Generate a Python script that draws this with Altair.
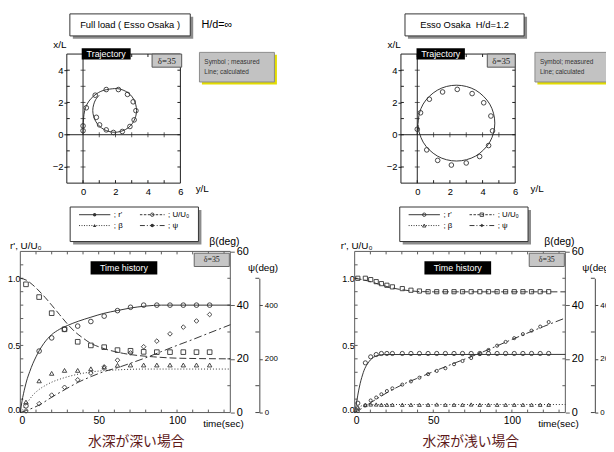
import altair as alt
import pandas as pd

# ======================= DATA =======================
# --- Trajectory, deep water (H/d = inf): measured (y/L, x/L)
deep_traj_meas_y = [0.0, 0.0, 0.2, 0.75, 1.43, 2.18, 2.74, 3.09, 3.26, 3.15, 2.89, 2.42, 1.87, 1.43, 1.02, 0.82]
deep_traj_meas_x = [0.55, 0.25, 1.67, 2.45, 2.8, 2.8, 2.5, 2.04, 1.49, 0.92, 0.51, 0.2, 0.14, 0.3, 0.61, 1.08]
# calculated path
deep_traj_calc_y = [0.0, 0.01, 0.03, 0.1, 0.25, 0.5, 0.85, 1.3, 1.95, 2.3, 2.63, 2.92, 3.12, 3.25, 3.3, 3.25,
                    3.12, 2.92, 2.63, 2.3, 1.95, 1.6, 1.28, 0.99, 0.78, 0.65, 0.6, 0.65, 0.78, 1.0]
deep_traj_calc_x = [0.0, 0.5, 1.0, 1.5, 1.9, 2.25, 2.55, 2.76, 2.86, 2.82, 2.69, 2.47, 2.2, 1.86, 1.5, 1.15,
                    0.83, 0.55, 0.33, 0.2, 0.15, 0.2, 0.33, 0.55, 0.83, 1.15, 1.5, 1.85, 2.18, 2.45]

# --- Trajectory, shallow water (H/d = 1.2)
sh_traj_meas_y = [0.0, 0.2, 0.74, 1.55, 2.45, 3.36, 4.07, 4.51, 4.61, 4.37, 3.82, 3.0, 2.09, 1.25, 0.58]
sh_traj_meas_x = [0.34, 1.36, 2.2, 2.65, 2.81, 2.55, 1.98, 1.16, 0.24, -0.67, -1.35, -1.75, -1.88, -1.59, -0.94]
sh_traj_calc_y = [0.0, 0.01, 0.05, 0.13, 0.36, 0.74, 1.23, 1.79, 2.4, 3.01, 3.58, 4.06, 4.44, 4.67, 4.75, 4.67,
                  4.44, 4.06, 3.58, 3.01, 2.4, 1.79, 1.23, 0.74, 0.36, 0.13, 0.05]
sh_traj_calc_x = [0.0, 0.35, 0.72, 1.33, 1.9, 2.38, 2.76, 2.99, 3.07, 2.99, 2.76, 2.38, 1.9, 1.33, 0.72, 0.11,
                  -0.46, -0.94, -1.32, -1.55, -1.63, -1.55, -1.32, -0.94, -0.46, 0.11, 0.6]

# --- Time history, deep water: measured
deep_t = [3.6, 12.0, 20.0, 28.2, 36.6, 45.0, 53.5, 62.0, 70.3, 78.7, 87.1, 95.5, 104.0, 112.4, 120.8]
deep_r = [0.05, 0.458, 0.556, 0.62, 0.644, 0.678, 0.718, 0.759, 0.784, 0.80, 0.80, 0.80, 0.80, 0.80, 0.80]
deep_u = [0.955, 0.86, 0.74, 0.62, 0.527, 0.50, 0.487, 0.465, 0.46, 0.452, 0.45, 0.45, 0.45, 0.45, 0.45]
deep_beta = [3.9, 11.8, 14.6, 15.7, 15.7, 16.3, 16.9, 17.6, 17.7, 17.7, 17.7, 17.7, 17.7, 17.7, 17.7]
deep_psi = [6, 33, 65, 94, 122, 147, 170, 195, 222, 245, 266, 293, 318, 341, 365]
# calculated
deep_r_line_t = [0, 1, 2, 3, 4, 6, 8, 10, 12, 15, 20, 25, 30, 37, 45, 53, 62, 70, 80, 90, 134]
deep_r_line_v = [0, 0.08, 0.14, 0.19, 0.235, 0.305, 0.365, 0.415, 0.46, 0.515, 0.58, 0.62, 0.648, 0.68, 0.71,
                 0.738, 0.76, 0.778, 0.793, 0.80, 0.80]
deep_u_line_t = [0, 4, 8, 12, 16, 20, 25, 30, 35, 40, 45, 50, 55, 60, 66, 75, 85, 100, 134]
deep_u_line_v = [1.0, 0.985, 0.95, 0.905, 0.855, 0.80, 0.73, 0.66, 0.60, 0.555, 0.515, 0.49, 0.47, 0.455,
                 0.44, 0.425, 0.415, 0.405, 0.40]
deep_b_line_t = [0, 2, 4, 6, 8, 12, 16, 20, 25, 30, 37, 45, 53, 62, 70, 80, 134]
deep_b_line_v = [0, 1.5, 3.3, 5.0, 6.5, 8.6, 10.1, 11.3, 12.4, 13.3, 14.3, 15.1, 15.6, 15.9, 16.1, 16.2, 16.2]
deep_p_line_t = [0, 4, 12, 20, 28.6, 37, 45.6, 53.6, 62, 70, 80, 90, 100, 110, 120, 134]
deep_p_line_v = [0, 8, 28, 57, 86, 113, 135, 153, 167, 183, 204, 227, 250, 272, 295, 327]

# --- Time history, shallow water: measured
sh_t = [2.0, 6.8, 10.2, 13.7, 17.0, 20.5, 24.0, 30.3, 35.8, 41.2, 46.7, 52.2, 57.7, 63.2, 68.6, 74.1, 79.6,
        85.1, 90.6, 96.0, 101.5, 107.0, 112.5, 118.0, 123.4]
sh_r = [0.07, 0.37, 0.415, 0.432, 0.44, 0.44, 0.44, 0.44, 0.44, 0.44, 0.44, 0.44, 0.44, 0.44, 0.44, 0.44, 0.44,
        0.44, 0.44, 0.44, 0.44, 0.44, 0.44, 0.44, 0.44]
sh_u = [1.0, 1.0, 0.99, 0.975, 0.96, 0.948, 0.936, 0.923, 0.911, 0.905, 0.90, 0.90, 0.90, 0.90, 0.90, 0.90,
        0.90, 0.90, 0.90, 0.90, 0.90, 0.90, 0.90, 0.90, 0.90]
sh_beta = [2.0, 2.8, 3.0, 3.0, 2.9, 2.9, 2.9, 2.9, 2.9, 2.9, 2.9, 3.0, 2.9, 2.9, 2.9, 3.0, 2.9, 2.9, 2.9, 2.9,
           2.9, 2.9, 2.9, 2.9, 2.9]
sh_psi = [6, 27, 45, 56, 68, 80, 90, 104, 116, 130, 143, 155, 165, 180, 192, 203, 218, 233, 249, 263, 277,
          292, 305, 320, 337]
sh_r_line_t = [0, 1, 2, 3, 4, 5, 6, 8, 10, 12, 15, 19, 134]
sh_r_line_v = [0, 0.06, 0.13, 0.19, 0.24, 0.28, 0.315, 0.36, 0.392, 0.412, 0.426, 0.432, 0.433]
sh_u_line_t = [0, 5, 10, 15, 20, 25, 30, 35, 40, 50, 134]
sh_u_line_v = [1.0, 0.99, 0.975, 0.957, 0.94, 0.925, 0.915, 0.907, 0.902, 0.899, 0.899]
sh_b_line_t = [0, 2, 4, 6, 10, 134]
sh_b_line_v = [0, 1.6, 2.4, 2.8, 3.0, 3.0]
sh_p_line_t = [0, 5, 10, 20, 30, 40, 60, 80, 100, 120, 134]
sh_p_line_v = [0, 17, 36, 72, 103, 128, 176, 222, 272, 320, 352]

# axis tick values / labels
traj_x_labels = [0, 2, 4, 6]
traj_y_labels = [-2, 0, 2, 4]
traj_x_minor = [0, 1, 2, 3, 4, 5]
traj_y_minor = [-2, -1, 0, 1, 2, 3, 4]
traj_cross_on_h = [1, 2, 3, 4, 5]
traj_cross_on_v = [-2, -1, 1, 2, 3, 4]
th_t_labels = [0, 50, 100]
th_r_labels = [0.0, 0.5, 1.0]
th_b_labels = [0, 20, 40, 60]
th_p_labels = [0, 200, 400]
th_t_minor = [10, 20, 30, 40, 50, 60, 70, 80, 90, 100, 110, 120, 130]
th_r_minor = [0.1, 0.2, 0.3, 0.4, 0.5, 0.6, 0.7, 0.8, 0.9, 1.0, 1.1]
th_b_minor = [10, 20, 30, 40, 50]
th_p_minor = [0, 100, 300, 500]

# ======================= LAYOUT =======================
W, H = 606, 444
FONT = "Liberation Sans"
SERIF = "Liberation Serif"
CJK = "Noto Sans CJK JP"
INK = "#1e1e1e"
MK = "#333333"
CAP = "#5e1a1a"


def X(v):
    return round(v - 8, 2)


def Y(v):
    return round(v - 8, 2)


ONE = alt.Data(values=[{"k": 1}])
layers = []


def sc(dom, r0, r1):
    return alt.Scale(domain=dom, range=[r0, r1], nice=False, zero=False)


def rect(x0, y0, x1, y1, **mk):
    return alt.Chart(ONE).mark_rect(**mk).encode(
        x=alt.value(X(x0)), x2=alt.value(X(x1)), y=alt.value(Y(y0)), y2=alt.value(Y(y1)))


def text(x, y, s, size=10, align="center", color="black", font=FONT, **kw):
    return alt.Chart(ONE).mark_text(text=s, fontSize=size, align=align, baseline="middle",
                                    font=font, color=color, **kw).encode(
        x=alt.value(X(x)), y=alt.value(Y(y)))


def seg(x0, y0, x1, y1, color=INK, width=1.0, dash=None):
    mk = dict(color=color, strokeWidth=width)
    if dash:
        mk["strokeDash"] = dash
    return alt.Chart(ONE).mark_rule(**mk).encode(
        x=alt.value(X(x0)), x2=alt.value(X(x1)), y=alt.value(Y(y0)), y2=alt.value(Y(y1)))


def glyph(x, y, shape, size=14, filled=False):
    return alt.Chart(ONE).mark_point(shape=shape, size=size, filled=filled, color=MK,
                                     strokeWidth=0.9, opacity=1).encode(
        x=alt.value(X(x)), y=alt.value(Y(y)))


def line(xv, yv, xs, ys, dash=None, width=0.9, interp="monotone"):
    df = pd.DataFrame({"a": xv, "b": yv, "i": list(range(len(xv)))})
    mk = dict(color=INK, strokeWidth=width, interpolate=interp)
    if dash:
        mk["strokeDash"] = dash
    return alt.Chart(df).mark_line(**mk).encode(
        x=alt.X("a:Q", scale=xs, axis=None), y=alt.Y("b:Q", scale=ys, axis=None), order="i:Q")


def points(xv, yv, xs, ys, shape, size=20, filled=False):
    df = pd.DataFrame({"a": xv, "b": yv})
    return alt.Chart(df).mark_point(shape=shape, size=size, filled=filled, color=MK,
                                    strokeWidth=0.9, opacity=1).encode(
        x=alt.X("a:Q", scale=xs, axis=None), y=alt.Y("b:Q", scale=ys, axis=None))


def xticks(vals, xs, y0, y1, color=INK):
    df = pd.DataFrame({"v": vals})
    return alt.Chart(df).mark_rule(color=color, strokeWidth=1).encode(
        x=alt.X("v:Q", scale=xs, axis=None), y=alt.value(Y(y0)), y2=alt.value(Y(y1)))


def yticks(vals, ys, x0, x1, color=INK):
    df = pd.DataFrame({"v": vals})
    return alt.Chart(df).mark_rule(color=color, strokeWidth=1).encode(
        y=alt.Y("v:Q", scale=ys, axis=None), x=alt.value(X(x0)), x2=alt.value(X(x1)))


def axis_layer(vals, chan, scale, axis):
    df = pd.DataFrame({"v": vals})
    if chan == "x":
        enc = dict(x=alt.X("v:Q", scale=scale, axis=axis))
    else:
        enc = dict(y=alt.Y("v:Q", scale=scale, axis=axis))
    return alt.Chart(df).mark_point(opacity=0).encode(**enc)


AX = dict(grid=False, title=None, labelFont=FONT, labelColor="black", labelOverlap=False)


def traj_panel(x0, x1, y0, y1, my, mx, cy, cx, title, title_box, hd, trj_box, dbox, sym_box, sym1):
    xs = sc([-1, 6], X(x0), X(x1))
    ys = sc([-3, 5], Y(y0), Y(y1))
    L = []
    # title box
    bx0, bx1 = title_box
    L.append(rect(bx0 + 3, 14, bx1 + 3, 36.3, fill="#8c8c8c"))
    L.append(rect(bx0, 11, bx1, 33.3, fill="white", stroke="#333333", strokeWidth=1))
    L.append(text((bx0 + bx1) / 2, 22.5, title, size=9.5))
    if hd:
        L.append(text(204, 22, hd, size=11, align="left"))
    # frame
    L.append(rect(x0, y1, x1, y0, filled=False, stroke=INK, strokeWidth=1))
    # zero lines
    z = pd.DataFrame({"v": [0]})
    L.append(alt.Chart(z).mark_rule(color=INK, strokeWidth=1).encode(
        x=alt.X("v:Q", scale=xs, axis=None), y=alt.value(Y(y1)), y2=alt.value(Y(y0))))
    L.append(alt.Chart(z).mark_rule(color=INK, strokeWidth=1).encode(
        y=alt.Y("v:Q", scale=ys, axis=None), x=alt.value(X(x0)), x2=alt.value(X(x1))))
    # crosses on zero lines
    ch = pd.DataFrame({"v": traj_cross_on_h, "z": [0] * len(traj_cross_on_h)})
    L.append(alt.Chart(ch).mark_tick(orient="vertical", size=5, thickness=1, color=INK).encode(
        x=alt.X("v:Q", scale=xs, axis=None), y=alt.Y("z:Q", scale=ys, axis=None)))
    cv = pd.DataFrame({"v": traj_cross_on_v, "z": [0] * len(traj_cross_on_v)})
    L.append(alt.Chart(cv).mark_tick(orient="horizontal", size=5, thickness=1, color=INK).encode(
        y=alt.Y("v:Q", scale=ys, axis=None), x=alt.X("z:Q", scale=xs, axis=None)))
    # inward frame ticks
    L.append(xticks(traj_x_minor, xs, y1, y1 + 3))
    L.append(xticks(traj_x_minor, xs, y0 - 3, y0))
    L.append(yticks(traj_y_minor, ys, x1 - 3, x1))
    L.append(yticks(traj_y_minor, ys, x0, x0 + 3))
    # axes
    L.append(axis_layer(traj_y_labels, "y", ys, alt.Axis(
        orient="left", offset=-X(x0), values=traj_y_labels, tickSize=3, tickColor=INK,
        domain=False, labelFontSize=9.5, labelPadding=1, **AX)))
    L.append(axis_layer(traj_x_labels, "x", xs, alt.Axis(
        orient="bottom", offset=Y(y0) - H, values=traj_x_labels, ticks=False, domain=False,
        labelFontSize=9.5, labelPadding=4, labelFlush=False, **AX)))
    L.append(text(x0 - 7, 42.5, "x/L", size=10))
    L.append(text(x1 + 15.5, 188.5, "y/L", size=10, align="left"))
    # data
    L.append(line(cy, cx, xs, ys, interp="cardinal"))
    L.append(points(my, mx, xs, ys, "circle", size=22))
    # labels
    tx0, tx1 = trj_box
    L.append(rect(tx0, 45.7, tx1, 57.3, fill="black"))
    L.append(text((tx0 + tx1) / 2, 51.7, "Trajectory", size=9, color="white"))
    dx0, dx1 = dbox
    L.append(rect(dx0, 51.7, dx1, 65, fill="#c6c6c6", stroke="#555555", strokeWidth=1))
    L.append(text((dx0 + dx1) / 2, 58.6, "δ=35", size=9, font=SERIF, color="#222222"))
    sx0 = sym_box
    L.append(rect(sx0 + 2.5, 52.5, sx0 + 78.5, 82.5, fill="#e3dc00"))
    L.append(rect(sx0, 50, sx0 + 76, 80, fill="#c2c2c2", stroke="#8a8a8a", strokeWidth=1))
    L.append(text(sx0 + 5, 59.5, sym1, size=6.5, align="left", color="#333333"))
    L.append(text(sx0 + 5, 69.5, "Line; calculated", size=6.5, align="left", color="#333333"))
    return L


def th_panel(x0, x1, psi_x, d, leg_dx, caption, yt_x, psi_lab_x, psi_align, leg_style):
    y0, y1 = 415, 251.7
    xs = sc([0, 134], X(x0), X(x1))
    yr = sc([0, 1.2], Y(y0), Y(y1))
    yb = sc([0, 60], Y(y0), Y(y1))
    yp = sc([0, 600], Y(y0), Y(y1))
    ypa = sc([0, 500], Y(y0), Y(y0 - (y0 - y1) * 500 / 600))
    L = []
    # legend box
    lx0, lx1 = 71 + leg_dx, 201 + leg_dx
    L.append(rect(lx0 + 3, 209.7, lx1 + 3, 244.7, fill="#8c8c8c"))
    L.append(rect(lx0, 206.7, lx1, 241.7, fill="white", stroke="#333333", strokeWidth=1))
    r1, r2 = 214.5, 225.5
    c1a, c1b, c2a, c2b = 80 + leg_dx, 111.7 + leg_dx, 141.7 + leg_dx, 166.7 + leg_dx
    L.append(seg(c1a, r1, c1b, r1, width=0.9))
    L.append(seg(c2a, r1, c2b, r1, width=0.9, dash=[2.5, 1.5]))
    L.append(seg(c1a, r2, c1b, r2, width=0.9, dash=[1, 1.5]))
    L.append(seg(c2a, r2, c2b, r2, width=0.9, dash=[5, 2, 1, 2]))
    for (gx, gy, shp, fl) in leg_style:
        L.append(glyph(gx + leg_dx, gy, shp, size=12, filled=fl))
    L.append(text(c1b + 3.5, r1, "; r'", size=8, align="left"))
    L.append(text(c2b + 3.5, r1, "; U/U₀", size=8, align="left"))
    L.append(text(c1b + 3.5, r2, "; β", size=8, align="left"))
    L.append(text(c2b + 3.5, r2, "; ψ", size=8, align="left"))
    # frame
    L.append(rect(x0, y1, x1, y0, filled=False, stroke="#5a5a5a", strokeWidth=1))
    L.append(xticks(th_t_minor, xs, y1, y1 + 3, "#5a5a5a"))
    L.append(xticks(th_t_minor, xs, y0 - 3, y0, "#5a5a5a"))
    L.append(yticks(th_r_minor, yr, x0, x0 + 3, "#5a5a5a"))
    L.append(yticks(th_b_minor, yb, x1 - 3, x1, "#5a5a5a"))
    # axes
    L.append(axis_layer(th_r_labels, "y", yr, alt.Axis(
        orient="left", offset=-X(x0), values=th_r_labels, format=".1f", ticks=False, domain=False,
        labelFontSize=9, labelPadding=0.5,
        labelOffset={"condition": {"test": "datum.value === 0", "value": -3}, "value": 0}, **AX)))
    L.append(axis_layer(th_t_labels, "x", xs, alt.Axis(
        orient="bottom", offset=Y(y0) - H, values=th_t_labels, ticks=False, domain=False,
        labelFontSize=10.5, labelPadding=3.5, labelFlush=False,
        labelOffset={"condition": {"test": "datum.value === 0", "value": 1.5}, "value": 0}, **AX)))
    L.append(axis_layer(th_b_labels, "y", yb, alt.Axis(
        orient="right", offset=X(x1) - W, values=th_b_labels, tickSize=4, tickColor="#5a5a5a",
        domain=False, labelFontSize=11, labelPadding=2, **AX)))
    L.append(axis_layer(th_p_labels, "y", ypa, alt.Axis(
        orient="right", offset=X(psi_x) - W, values=th_p_labels, tickSize=3, tickColor="#444444",
        domain=True, domainColor="#444444", labelFontSize=8, labelPadding=2, **AX)))
    L.append(yticks(th_p_minor, ypa, psi_x - 4, psi_x, "#444444"))
    # titles
    L.append(text(yt_x, 246.7, "r', U/U₀", size=10, align="left"))
    L.append(text(x1 - 6, 241.7, "β(deg)", size=10.5))
    L.append(text(psi_lab_x, 268.3, "ψ(deg)", size=10, align=psi_align))
    L.append(text(x1 - 7, 426.7, "time(sec)", size=10))
    L.append(text((x0 + x1) / 2 + 11, 445, caption, size=14, font=CJK, color=CAP))
    # boxes
    L.append(rect(91.7 + d, 261.7, 159.3 + d, 275, fill="black"))
    L.append(text(125.5 + d, 268.4, "Time history", size=9, color="white"))
    L.append(rect(x1 - 36.6, 253.5, x1 - 1, 267, fill="#c6c6c6", stroke="#666666", strokeWidth=1))
    L.append(text(x1 - 18.8, 260.4, "δ=35", size=8, font=SERIF, color="#222222"))
    return L, xs, yr, yb, yp


# ---------------- trajectories ----------------
layers += traj_panel(67.6, 182.7, 182.5, 51.7, deep_traj_meas_y, deep_traj_meas_x,
                     deep_traj_calc_y, deep_traj_calc_x, "Full load ( Esso Osaka )", (70.7, 192.7),
                     "H/d=∞", (82.7, 132.3), (154, 184), 202, "Symbol ; measured")
layers += traj_panel(406.2, 522.0, 182.5, 51.7, sh_traj_meas_y, sh_traj_meas_x,
                     sh_traj_calc_y, sh_traj_calc_x, "Esso Osaka\u00a0\u00a0H/d=1.2", (410.3, 531.0),
                     None, (422, 471), (493.7, 522), 542, "Symbol; measured")

# ---------------- time histories ----------------
leg_deep = [(95.8, 214.5, "circle", True), (154.2, 214.5, "circle", False),
            (95.8, 225.5, "triangle-up", True), (154.2, 225.5, "circle", True)]
leg_sh = [(95.8, 214.5, "circle", False), (154.2, 214.5, "square", False),
          (95.8, 225.5, "triangle-up", False), (154.2, 225.5, "diamond", True)]

L, xs, yr, yb, yp = th_panel(20.5, 233.3, 262.7, 0, 0, "水深が深い場合", 10, 266.5, "center", leg_deep)
layers += L
layers.append(line(deep_u_line_t, deep_u_line_v, xs, yr, dash=[7, 3]))
layers.append(line(deep_r_line_t, deep_r_line_v, xs, yr))
layers.append(line(deep_b_line_t, deep_b_line_v, xs, yb, dash=[1, 2]))
layers.append(line(deep_p_line_t, deep_p_line_v, xs, yp, dash=[8, 3, 2, 3]))
layers.append(points(deep_t, deep_r, xs, yr, "circle", size=22))
layers.append(points(deep_t, deep_u, xs, yr, "square", size=22))
layers.append(points(deep_t, deep_beta, xs, yb, "triangle-up", size=20))
layers.append(points(deep_t, deep_psi, xs, yp, "diamond", size=22))

L, xs, yr, yb, yp = th_panel(359.3, 572.8, 602.7, 338.3, 334, "水深が浅い場合", 345.3, 590, "left", leg_sh)
layers += L
layers.append(line(sh_u_line_t, sh_u_line_v, xs, yr, dash=[7, 3]))
layers.append(line(sh_r_line_t, sh_r_line_v, xs, yr))
layers.append(line(sh_b_line_t, sh_b_line_v, xs, yb, dash=[1, 2]))
layers.append(line(sh_p_line_t, sh_p_line_v, xs, yp, dash=[8, 3, 2, 3]))
layers.append(points(sh_t, sh_r, xs, yr, "circle", size=18))
layers.append(points(sh_t, sh_u, xs, yr, "square", size=18))
layers.append(points(sh_t, sh_beta, xs, yb, "triangle-up", size=14))
layers.append(points(sh_t, sh_psi, xs, yp, "circle", size=10))

chart = alt.layer(*layers).resolve_scale(x="independent", y="independent").resolve_axis(
    x="independent", y="independent").properties(
    width=W, height=H, padding=0, autosize=alt.AutoSizeParams(type="none"),
    background="white").configure_view(stroke=None)

chart.save("out.html", embed_options={"renderer": "svg", "actions": False})
